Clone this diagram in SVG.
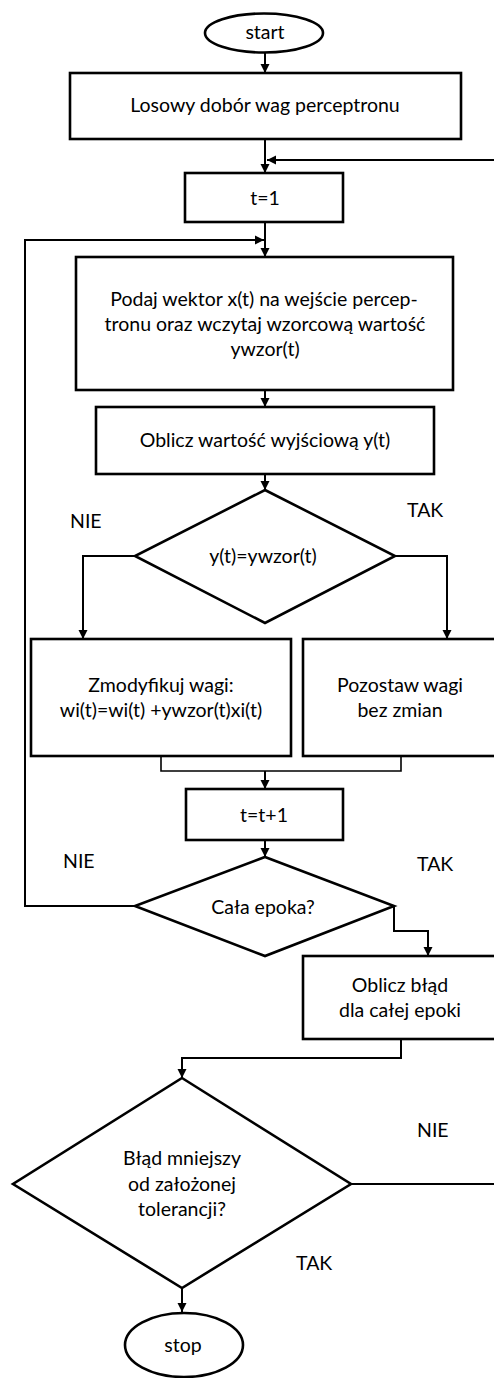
<svg xmlns="http://www.w3.org/2000/svg" width="494" height="1378" viewBox="0 0 494 1378">
<defs>
<style>
.n{fill:#fff;stroke:#000;stroke-width:2.6}
.c{fill:none;stroke:#000;stroke-width:2}
.t{font-family:Lato,"Liberation Sans",sans-serif;font-size:19.5px;fill:#000;text-anchor:middle}
.l{font-family:Lato,"Liberation Sans",sans-serif;font-size:19.5px;fill:#000}
</style>
<marker id="a" markerUnits="userSpaceOnUse" markerWidth="10" markerHeight="10" refX="9" refY="5" orient="auto">
<path d="M0,0.5 L9,5 L0,9.5 Z" fill="#000"/>
</marker>
</defs>
<rect width="494" height="1378" fill="#fff"/>
<g id="connectors">
<path class="c" d="M265,52 V73" marker-end="url(#a)"/>
<path class="c" d="M265,139 V173" marker-end="url(#a)"/>
<path class="c" d="M351,1184 H500 V160 H267" marker-end="url(#a)"/>
<path class="c" d="M265,222 V257" marker-end="url(#a)"/>
<path class="c" d="M135,906 H25 V240 H264" marker-end="url(#a)"/>
<path class="c" d="M265,390 V407" marker-end="url(#a)"/>
<path class="c" d="M265,474 V490" marker-end="url(#a)"/>
<path class="c" d="M135,556 H83 V639" marker-end="url(#a)"/>
<path class="c" d="M395,556 H447 V639" marker-end="url(#a)"/>
<path class="c" style="stroke-width:1.6" d="M161,756 V771 H401 V756"/>
<path class="c" d="M265,771 V789" marker-end="url(#a)"/>
<path class="c" d="M265,840 V857" marker-end="url(#a)"/>
<path class="c" d="M394,906 V931 H428 V956" marker-end="url(#a)"/>
<path class="c" d="M401,1039 V1058 H182 V1078" marker-end="url(#a)"/>
<path class="c" d="M182,1288 V1312" marker-end="url(#a)"/>
</g>
<g id="start">
<ellipse class="n" cx="264" cy="33" rx="59" ry="19.5"/>
<text class="t" x="265" y="39">start</text>
</g>
<g id="init">
<rect class="n" x="70" y="73" width="391" height="66"/>
<text class="t" x="265" y="112">Losowy dobór wag perceptronu</text>
</g>
<g id="t1">
<rect class="n" x="185" y="173" width="158" height="49"/>
<text class="t" x="265" y="205">t=1</text>
</g>
<g id="input">
<rect class="n" x="76" y="257" width="377" height="133"/>
<text class="t" x="264" y="306">Podaj wektor x(t) na wejście percep-</text>
<text class="t" x="265" y="331">tronu oraz wczytaj wzorcową wartość</text>
<text class="t" x="265" y="356">ywzor(t)</text>
</g>
<g id="output">
<rect class="n" x="96" y="407" width="338" height="67"/>
<text class="t" x="265" y="447">Oblicz wartość wyjściową y(t)</text>
</g>
<g id="cond1">
<polygon class="n" points="265,490 395,556 265,623 135,556"/>
<text class="t" x="263" y="563">y(t)=ywzor(t)</text>
</g>
<g id="modify">
<rect class="n" x="31" y="639" width="260" height="117"/>
<text class="t" x="161" y="692">Zmodyfikuj wagi:</text>
<text class="t" x="161" y="717">wi(t)=wi(t) +ywzor(t)xi(t)</text>
</g>
<g id="keep">
<rect class="n" x="303" y="639" width="200" height="117"/>
<text class="t" x="400" y="692">Pozostaw wagi</text>
<text class="t" x="400" y="717">bez zmian</text>
</g>
<g id="tinc">
<rect class="n" x="186" y="789" width="157" height="51"/>
<text class="t" x="264" y="822">t=t+1</text>
</g>
<g id="cond2">
<polygon class="n" points="265,857 394,906 265,956 135,906"/>
<text class="t" x="263" y="914">Cała epoka?</text>
</g>
<g id="error">
<rect class="n" x="303" y="956" width="200" height="83"/>
<text class="t" x="400" y="992">Oblicz błąd</text>
<text class="t" x="400" y="1017">dla całej epoki</text>
</g>
<g id="cond3">
<polygon class="n" points="182,1078 351,1184 182,1288 13,1184"/>
<text class="t" x="182" y="1165">Błąd mniejszy</text>
<text class="t" x="182" y="1191">od założonej</text>
<text class="t" x="182" y="1216">tolerancji?</text>
</g>
<g id="stop">
<ellipse class="n" cx="184" cy="1345" rx="59" ry="32"/>
<text class="t" x="183" y="1352">stop</text>
</g>
<g id="labels">
<text class="l" x="70" y="528">NIE</text>
<text class="l" x="407" y="517">TAK</text>
<text class="l" x="63" y="868">NIE</text>
<text class="l" x="417" y="871">TAK</text>
<text class="l" x="417" y="1137">NIE</text>
<text class="l" x="296" y="1270">TAK</text>
</g>
</svg>
